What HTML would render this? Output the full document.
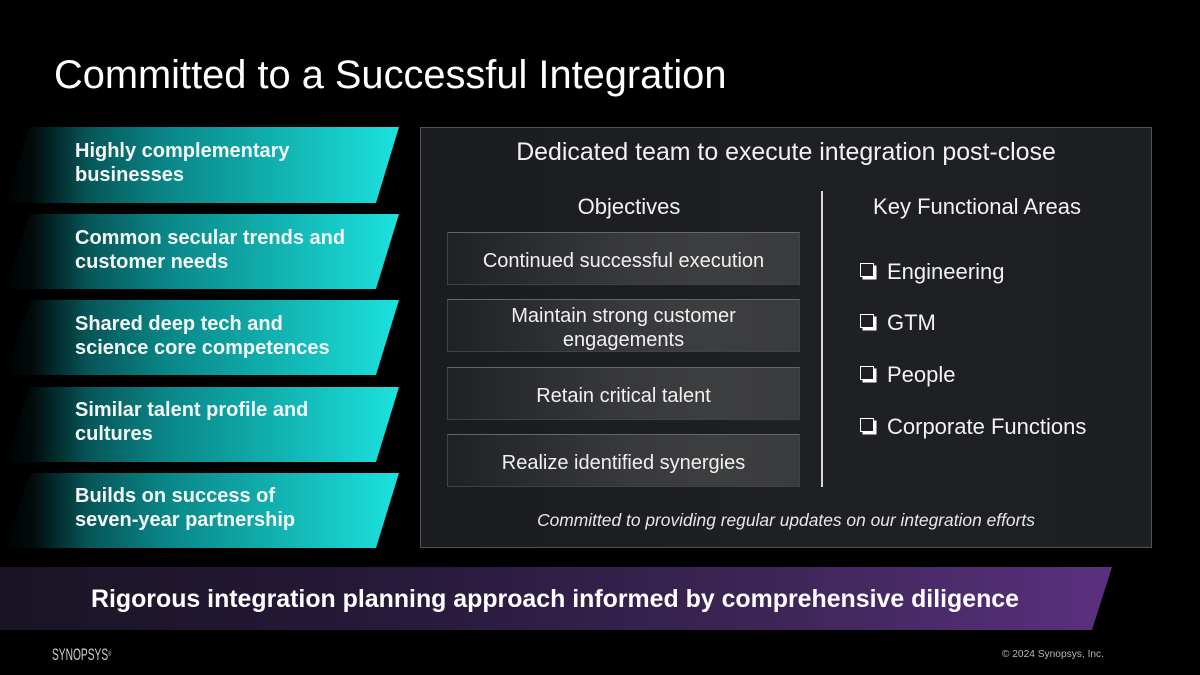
<!DOCTYPE html>
<html>
<head>
<meta charset="utf-8">
<style>
  html, body { margin:0; padding:0; }
  body { width:1200px; height:675px; background:#000; position:relative; overflow:hidden;
         font-family:"Liberation Sans", Arial, sans-serif; color:#fff; }
  .abs { position:absolute; white-space:nowrap; }
  .title { left:54px; top:56px; font-size:39.8px; line-height:39.8px; color:#fff; }
  .ltxt { left:75px; font-size:20px; line-height:23.5px; font-weight:bold; color:#f4f6f6; }
  .panel { left:420px; top:127px; width:732px; height:421px; background:#1c1e22;
           border:1px solid #4e5156; box-sizing:border-box;
           background:linear-gradient(90deg,#1a1c20 0%,#1e2024 50%,#1d1f23 100%); }
  .ptitle { left:420px; width:732px; top:140px; text-align:center; font-size:24.9px; line-height:24.9px; color:#f2f2f2; }
  .hdr { font-size:22px; line-height:22px; top:196px; color:#f2f2f2; text-align:center; }
  .obj { position:absolute; left:447px; width:353px; height:53px; box-sizing:border-box;
         border:1px solid #3f4246; border-top:1px solid #63666b;
         background:linear-gradient(90deg,#1f2125 0%,#2a2c30 22%,#38393c 50%,#3d3e40 75%,#3a3b3d 100%);
         display:flex; align-items:center; justify-content:center; text-align:center;
         font-size:20px; line-height:23.4px; color:#f0f0f0; padding-top:6px; }
  .chk { position:absolute; left:860px; width:14px; height:14px; box-sizing:border-box;
         border:1.6px solid #fff; box-shadow:2.5px 2.5px 0 #fff; }
  .item { left:887px; font-size:22px; line-height:22px; color:#f2f2f2; }
</style>
</head>
<body>

<div class="abs title">Committed to a Successful Integration</div>

<!-- left teal parallelograms -->
<svg class="abs" style="left:0;top:0" width="420" height="560" viewBox="0 0 420 560">
  <defs>
    <linearGradient id="tg" x1="0" y1="0" x2="400" y2="0" gradientUnits="userSpaceOnUse">
      <stop offset="0" stop-color="#000"/>
      <stop offset="0.08" stop-color="#010b0b"/>
      <stop offset="0.22" stop-color="#065658"/>
      <stop offset="0.42" stop-color="#0a8788"/>
      <stop offset="0.7" stop-color="#11b3b1"/>
      <stop offset="1" stop-color="#1de2de"/>
    </linearGradient>
  </defs>
  <polygon points="30,127 399,127 376,203 5,203" fill="url(#tg)"/>
  <polygon points="30,214 399,214 376,289 5,289" fill="url(#tg)"/>
  <polygon points="30,300 399,300 376,375 5,375" fill="url(#tg)"/>
  <polygon points="30,387 399,387 376,462 5,462" fill="url(#tg)"/>
  <polygon points="30,473 399,473 376,548 5,548" fill="url(#tg)"/>
</svg>

<div class="abs ltxt" style="top:140px">Highly complementary<br>businesses</div>
<div class="abs ltxt" style="top:227px">Common secular trends and<br>customer needs</div>
<div class="abs ltxt" style="top:313px">Shared deep tech and<br>science core competences</div>
<div class="abs ltxt" style="top:399px">Similar talent profile and<br>cultures</div>
<div class="abs ltxt" style="top:485px">Builds on success of<br>seven-year partnership</div>

<!-- panel -->
<div class="abs panel"></div>
<div class="abs ptitle">Dedicated team to execute integration post-close</div>

<div class="abs hdr" style="left:529px;width:200px;">Objectives</div>
<div class="abs hdr" style="left:867px;width:220px;">Key Functional Areas</div>

<div class="abs" style="left:821px;top:191px;width:1.5px;height:296px;background:#d8d8d8;"></div>

<div class="obj" style="top:232px;">Continued successful execution</div>
<div class="obj" style="top:299px;">Maintain strong customer<br>engagements</div>
<div class="obj" style="top:367px;">Retain critical talent</div>
<div class="obj" style="top:434px;">Realize identified synergies</div>

<div class="chk" style="top:263px;"></div>
<div class="abs item" style="top:261px;">Engineering</div>
<div class="chk" style="top:314px;"></div>
<div class="abs item" style="top:312px;">GTM</div>
<div class="chk" style="top:366px;"></div>
<div class="abs item" style="top:364px;">People</div>
<div class="chk" style="top:418px;"></div>
<div class="abs item" style="top:416px;">Corporate Functions</div>

<div class="abs" style="left:420px;width:732px;top:512px;text-align:center;font-size:17.4px;line-height:17.4px;font-style:italic;color:#e8e8e8;">Committed to providing regular updates on our integration efforts</div>

<!-- bottom purple banner -->
<svg class="abs" style="left:0;top:560px" width="1200" height="80" viewBox="0 560 1200 80">
  <defs>
    <linearGradient id="pg" x1="0" y1="0" x2="1112" y2="0" gradientUnits="userSpaceOnUse">
      <stop offset="0" stop-color="#1a1424"/>
      <stop offset="0.35" stop-color="#26193a"/>
      <stop offset="0.7" stop-color="#3d2657"/>
      <stop offset="1" stop-color="#5b307f"/>
    </linearGradient>
  </defs>
  <polygon points="0,567 1112,567 1092,630 0,630" fill="url(#pg)"/>
</svg>
<div class="abs" style="left:91px;top:587px;font-size:24.9px;line-height:24.9px;font-weight:bold;color:#fff;">Rigorous integration planning approach informed by comprehensive diligence</div>

<!-- footer -->
<div class="abs" style="left:52px;top:646px;font-size:17px;line-height:17px;color:#d0d0d0;transform:scaleX(0.6);transform-origin:left top;">SYNOPSYS<span style="font-size:7px;vertical-align:top;">®</span></div>
<div class="abs" style="left:953px;top:650px;width:151px;text-align:right;font-size:10.2px;line-height:10.2px;color:#b8b8b8;">© 2024 Synopsys, Inc.</div>

</body>
</html>
